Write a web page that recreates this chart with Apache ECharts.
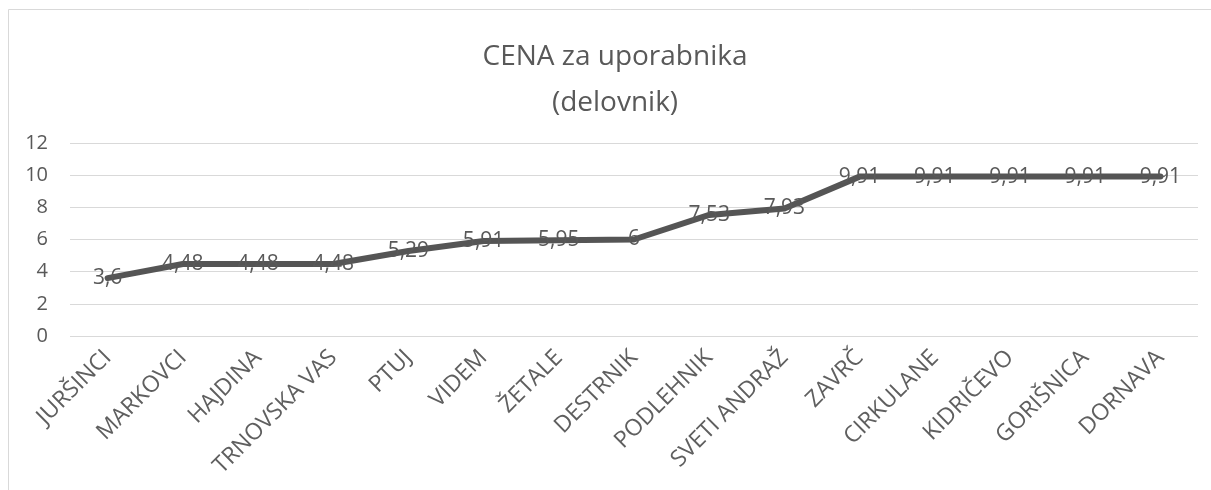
<!DOCTYPE html>
<html>
<head>
<meta charset="utf-8">
<script src="https://cdn.jsdelivr.net/npm/echarts@6/dist/echarts.min.js"></script>
<style>
  html, body { margin: 0; padding: 0; background: #ffffff; }
  #chart { width: 1211px; height: 490px; }
</style>
</head>
<body>
<div id="chart"></div>
<script>
// Občine, razvrščene po ceni
const categories = ['JURŠINCI', 'MARKOVCI', 'HAJDINA', 'TRNOVSKA VAS', 'PTUJ', 'VIDEM', 'ŽETALE',
  'DESTRNIK', 'PODLEHNIK', 'SVETI ANDRAŽ', 'ZAVRČ', 'CIRKULANE', 'KIDRIČEVO', 'GORIŠNICA', 'DORNAVA'];
// Cena za uporabnika (delovnik)
const prices = [3.6, 4.48, 4.48, 4.48, 5.29, 5.91, 5.95, 6, 7.53, 7.93, 9.91, 9.91, 9.91, 9.91, 9.91];
const yTicks = [0, 2, 4, 6, 8, 10, 12];

const FONT = '"Open Sans", "Noto Sans", sans-serif';
const TEXT = '#595959';

const chart = echarts.init(document.getElementById('chart'), null, { renderer: 'canvas' });
chart.setOption({
  backgroundColor: '#ffffff',
  animation: false,
  graphic: [{
    type: 'rect',
    shape: { x: 8.5, y: 9.5, width: 1250, height: 520 },
    style: { fill: 'none', stroke: '#d9d9d9', lineWidth: 1 },
    silent: true
  }],
  title: {
    text: 'CENA za uporabnika\n(delovnik)',
    left: 610,
    textAlign: 'center',
    top: 29,
    textStyle: { fontFamily: FONT, fontSize: 28, fontWeight: 'normal', color: TEXT, lineHeight: 46 }
  },
  grid: { left: 70, right: 13, top: 143, bottom: 154 },
  xAxis: {
    type: 'category',
    data: categories,
    boundaryGap: true,
    axisLine: { show: false },
    axisTick: { show: false },
    axisLabel: { rotate: 45, margin: 18, fontFamily: FONT, fontSize: 23, color: '#5f5f5f', interval: 0 }
  },
  yAxis: {
    type: 'value',
    min: yTicks[0],
    max: yTicks[yTicks.length - 1],
    interval: 2,
    axisLine: { show: false },
    axisTick: { show: false },
    axisLabel: { margin: 22, fontFamily: FONT, fontSize: 20, color: TEXT },
    splitLine: { lineStyle: { color: '#d9d9d9', width: 1 } }
  },
  series: [{
    type: 'line',
    data: prices,
    symbol: 'circle',
    symbolSize: 0.1,
    itemStyle: { color: '#555555' },
    lineStyle: { color: '#555555', width: 6, cap: 'round', join: 'round' },
    label: {
      show: true,
      position: 'inside',
      fontFamily: FONT,
      fontSize: 21,
      color: TEXT,
      formatter: p => String(p.value).replace('.', ',')
    }
  }]
});
</script>
</body>
</html>
